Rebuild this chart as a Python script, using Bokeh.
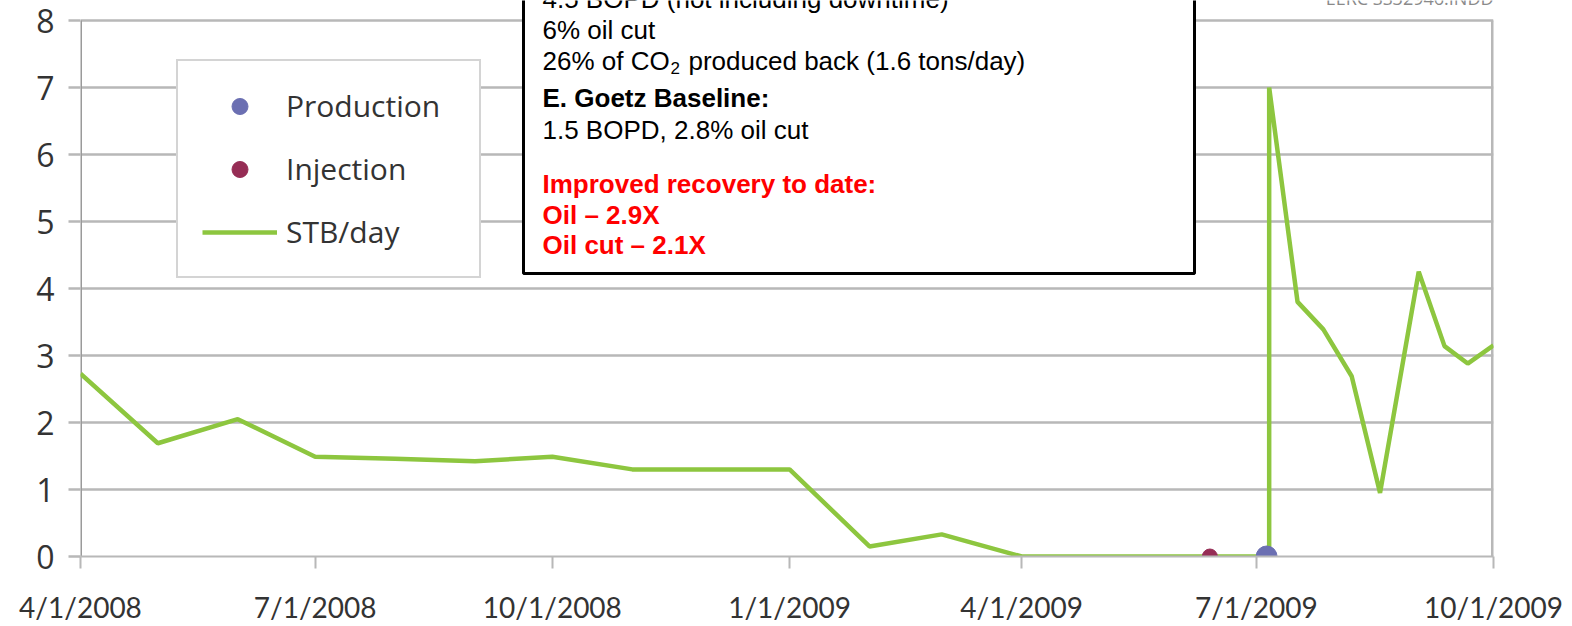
import pandas as pd
from bokeh.plotting import figure
from bokeh.models import Range1d, FixedTicker, Legend, LegendItem, Label, BoxAnnotation
from bokeh.embed import file_html
from bokeh.resources import INLINE

# ---------------- data ----------------
stb_dates = ["2008-04-01", "2008-05-01", "2008-06-01", "2008-07-01", "2008-08-01",
             "2008-09-01", "2008-10-01", "2008-11-01", "2008-12-01", "2009-01-01",
             "2009-02-01", "2009-03-01", "2009-04-01", "2009-05-01", "2009-06-01",
             "2009-07-06", "2009-07-06", "2009-07-17", "2009-07-27", "2009-08-07",
             "2009-08-18", "2009-09-02", "2009-09-12", "2009-09-21", "2009-10-01"]
stb_per_day = [2.73, 1.69, 2.05, 1.49, 1.46,
               1.42, 1.49, 1.30, 1.30, 1.30,
               0.15, 0.33, 0.0, 0.0, 0.0,
               0.0, 7.0, 3.80, 3.39, 2.69,
               0.95, 4.25, 3.14, 2.88, 3.15]

injection_dates = ["2009-06-13"]
injection_values = [0.0]
production_dates = ["2009-07-05"]
production_values = [0.0]

x_tick_dates = ["2008-04-01", "2008-07-01", "2008-10-01", "2009-01-01",
                "2009-04-01", "2009-07-01", "2009-10-01"]
x_tick_labels = ["4/1/2008", "7/1/2008", "10/1/2008", "1/1/2009",
                 "4/1/2009", "7/1/2009", "10/1/2009"]
y_ticks = [0, 1, 2, 3, 4, 5, 6, 7, 8]

legend_labels = ["Production", "Injection", "STB/day"]

box_lines = [
    ("4.5 BOPD (not including downtime)", "normal", "black"),
    ("6% oil cut", "normal", "black"),
    ("26% of CO", "normal", "black"),
    ("E. Goetz Baseline:", "bold", "black"),
    ("1.5 BOPD, 2.8% oil cut", "normal", "black"),
    ("Improved recovery to date:", "bold", "#ff0000"),
    ("Oil \u2013 2.9X", "bold", "#ff0000"),
    ("Oil cut \u2013 2.1X", "bold", "#ff0000"),
]
co2_sub = "2"
co2_rest = " produced back (1.6 tons/day)"
corner_note = "EERC SS32946.INDD"


def to_ms(d):
    return (pd.Timestamp(d) - pd.Timestamp("1970-01-01")) / pd.Timedelta(milliseconds=1)


x_stb = [to_ms(d) for d in stb_dates]
x_inj = [to_ms(d) for d in injection_dates]
x_prod = [to_ms(d) for d in production_dates]
x_ticks = [to_ms(d) for d in x_tick_dates]

X_START, X_END = x_ticks[0], x_ticks[-1]

# ---------------- layout helpers (canvas pixel -> data) ----------------
W, H = 1572, 626
FRAME_L, FRAME_R = 80, 1493
Y0_PX, PX_PER_UNIT = 556, 67.0


def px_x(px):
    return X_START + (px - FRAME_L) / (FRAME_R - FRAME_L) * (X_END - X_START)


def px_y(py):
    return (Y0_PX - py) / PX_PER_UNIT


GRID = "#b8b8b8"
TXT = "#333333"

p = figure(width=W, height=H, output_backend="svg", toolbar_location=None,
           x_range=Range1d(X_START, X_END), y_range=Range1d(0, px_y(0)),
           min_border_left=FRAME_L, min_border_right=W - FRAME_R,
           min_border_top=0, min_border_bottom=H - Y0_PX)
p.outline_line_color = None
p.background_fill_color = "white"

# axes
p.xaxis.ticker = FixedTicker(ticks=x_ticks)
p.xaxis.major_label_overrides = {t: lab for t, lab in zip(x_ticks, x_tick_labels)}
p.xaxis.major_label_text_font = "Lato"
p.xaxis.major_label_text_font_size = "28px"
p.xaxis.major_label_text_color = TXT
p.xaxis.major_label_standoff = 21
p.xaxis.major_tick_out = 12
p.xaxis.major_tick_in = 0
p.xaxis.minor_tick_line_color = None
p.xaxis.major_tick_line_color = GRID
p.xaxis.major_tick_line_width = 2
p.xaxis.axis_line_color = GRID
p.xaxis.axis_line_width = 2
p.xgrid.grid_line_color = None

p.yaxis.ticker = FixedTicker(ticks=y_ticks)
p.yaxis.major_label_text_font = "Open Sans"
p.yaxis.major_label_text_font_size = "32px"
p.yaxis.major_label_text_color = TXT
p.yaxis.major_label_standoff = 14
p.yaxis.major_tick_out = 12
p.yaxis.major_tick_in = 0
p.yaxis.minor_tick_line_color = None
p.yaxis.major_tick_line_color = GRID
p.yaxis.major_tick_line_width = 2.5
p.yaxis.axis_line_color = None
p.ygrid.ticker = FixedTicker(ticks=y_ticks)
p.ygrid.grid_line_color = GRID
p.ygrid.grid_line_width = 2.5

# left axis line and right border, from 0 to top tick
p.segment(x0=[X_START], y0=[y_ticks[0]], x1=[X_START], y1=[y_ticks[-1]],
          line_color="#9a9a9a", line_width=3)
p.segment(x0=[X_END], y0=[y_ticks[0]], x1=[X_END], y1=[y_ticks[-1]],
          line_color=GRID, line_width=5)

# data
r_line = p.line(x_stb, stb_per_day, line_color="#8dc63f", line_width=4.5)
r_inj = p.scatter(x_inj, injection_values, size=15, fill_color="#962d55",
                  line_color="#962d55")
r_prod = p.scatter(x_prod, production_values, size=21, fill_color="#6b6fb2",
                   line_color="#6b6fb2")

legend = Legend(items=[LegendItem(label=legend_labels[0], renderers=[r_prod]),
                       LegendItem(label=legend_labels[1], renderers=[r_inj]),
                       LegendItem(label=legend_labels[2], renderers=[r_line])],
                location=(176 - FRAME_L, Y0_PX - 278))
legend.label_text_font = "Open Sans"
legend.label_text_font_size = "30px"
legend.label_text_color = TXT
legend.glyph_width = 75
legend.glyph_height = 40
legend.label_height = 40
legend.label_width = 169
legend.spacing = 22
legend.padding = 24
legend.label_standoff = 9
legend.margin = 0
legend.border_line_color = "#aaaaaa"
legend.border_line_width = 2
legend.background_fill_color = "white"
legend.background_fill_alpha = 1.0
p.add_layout(legend)

# text box
box = BoxAnnotation(left=px_x(523), right=px_x(1194), bottom=px_y(273), top=px_y(-40),
                    fill_color="white", fill_alpha=1.0,
                    line_color="black", line_alpha=1.0, line_width=3)
p.add_layout(box)

centers = [-2, 29, 60, 97, 129, 183, 214, 244]
TEXT_X = 542
for (txt, style, col), cy in zip(box_lines, centers):
    p.add_layout(Label(x=px_x(TEXT_X), y=px_y(cy), text=txt, text_font="Liberation Sans",
                       text_font_size="26px", text_font_style=style, text_color=col,
                       text_baseline="middle", text_align="left"))
# subscript and rest of the CO2 line
p.add_layout(Label(x=px_x(TEXT_X + 128), y=px_y(67), text=co2_sub, text_font="Liberation Sans",
                   text_font_size="17px", text_color="black",
                   text_baseline="middle", text_align="left"))
p.add_layout(Label(x=px_x(TEXT_X + 146), y=px_y(60), text=co2_rest, text_font="Liberation Sans",
                   text_font_size="26px", text_color="black",
                   text_baseline="middle", text_align="left"))

# faint file note at top right (cut off in the original)
p.add_layout(Label(x=px_x(1493), y=px_y(-3), text=corner_note, text_font="Open Sans",
                   text_font_size="18px", text_color="#8a8a8a",
                   text_baseline="middle", text_align="right"))

open("out.html", "w").write(file_html(p, INLINE))
